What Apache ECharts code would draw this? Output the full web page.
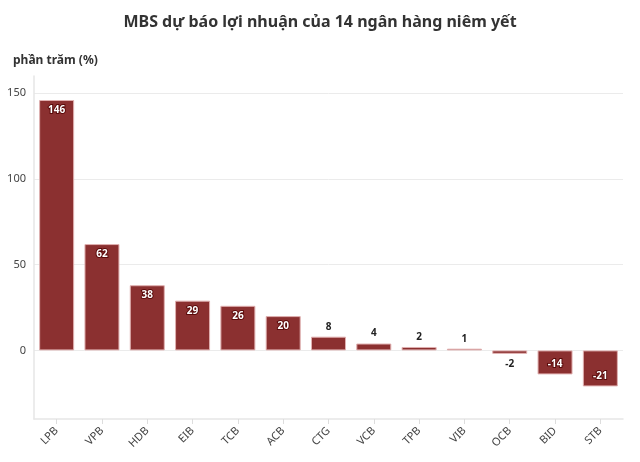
<!DOCTYPE html>
<html><head><meta charset="utf-8">
<script src="https://cdn.jsdelivr.net/npm/echarts@6/dist/echarts.min.js"></script>
<style>html,body{margin:0;padding:0;background:#fff}#c{width:640px;height:462px}</style>
</head><body><div id="c"></div>
<script>
const categories = ['LPB','VPB','HDB','EIB','TCB','ACB','CTG','VCB','TPB','VIB','OCB','BID','STB'];
const values = [146, 62, 38, 29, 26, 20, 8, 4, 2, 1, -2, -14, -21];
const yTicks = [0, 50, 100, 150];

const chart = echarts.init(document.getElementById('c'));
const insideLabel = {color:'#fff', textBorderColor:'#5a0a0a', textBorderWidth:2};
const outsideLabel = {color:'#222'};
const data = values.map(v => {
  const big = Math.abs(v) >= 10;
  const pos = big ? (v >= 0 ? 'insideTop' : 'insideBottom') : (v >= 0 ? 'top' : 'bottom');
  return {value: v, label: Object.assign({position: pos}, big ? insideLabel : outsideLabel)};
});
chart.setOption({
  animation:false,
  title:[
    {text:'MBS dự báo lợi nhuận của 14 ngân hàng niêm yết', left:'center', top:9,
     textStyle:{fontFamily:'Noto Sans', fontWeight:'bold', fontSize:16, color:'#333'}},
    {text:'phần trăm (%)', left:8, top:50,
     textStyle:{fontFamily:'Noto Sans', fontWeight:'bold', fontSize:12, color:'#333'}}
  ],
  grid:{left:34, right:17, top:76, bottom:43, containLabel:false},
  xAxis:{type:'category', data:categories,
    axisLine:{show:true, onZero:false, lineStyle:{color:'#e6e6e6', width:1.5}},
    axisTick:{show:true, alignWithLabel:true, length:5, lineStyle:{color:'#ddd'}},
    axisLabel:{rotate:45, color:'#444', fontSize:11, fontFamily:'Noto Sans', margin:10}},
  yAxis:{type:'value', min:-40, max:160, interval:10,
    axisLine:{show:true, lineStyle:{color:'#e6e6e6', width:1.5}},
    axisTick:{show:false},
    axisLabel:{color:'#444', fontSize:11, fontFamily:'Noto Sans', margin:8,
      formatter: v => yTicks.includes(v) ? String(v) : ''},
    splitLine:{show:true, lineStyle:{color:['transparent','transparent','transparent','transparent','#ebebeb']}}},
  series:[{type:'bar', data:data, barWidth:35,
    itemStyle:{color:'#8b3030', borderColor:'#e0b0b0', borderWidth:1},
    label:{show:true, fontSize:10, fontWeight:'bold', fontFamily:'Noto Sans', distance:5}}]
});
</script></body></html>
